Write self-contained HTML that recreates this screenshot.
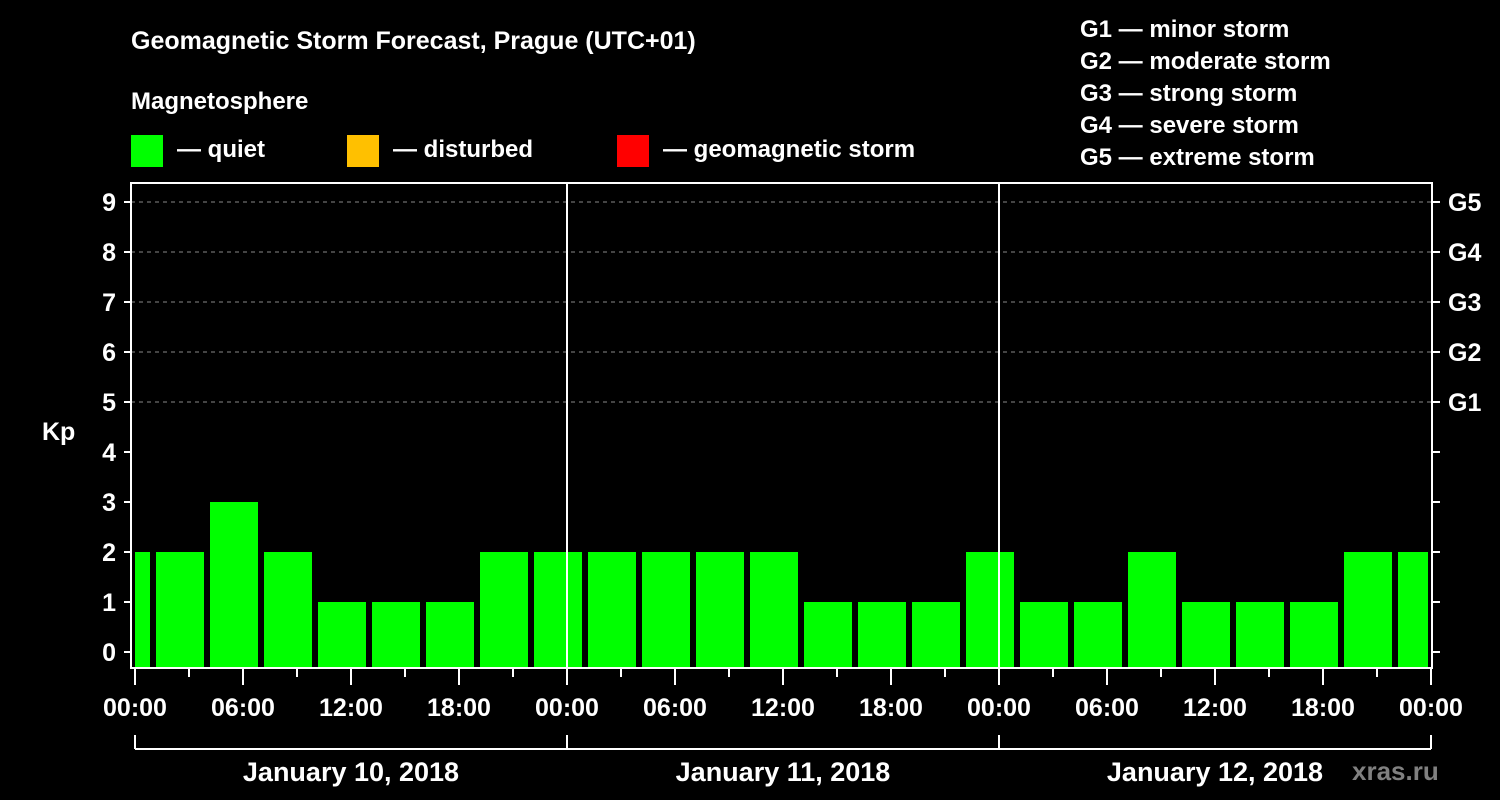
<!DOCTYPE html>
<html><head><meta charset="utf-8"><style>
html,body{margin:0;padding:0;background:#000;}
svg{display:block;font-family:"Liberation Sans",Arial,sans-serif;font-weight:bold;}
</style></head><body>
<svg id="chart" width="1500" height="800" viewBox="0 0 1500 800">
<rect x="0" y="0" width="1500" height="800" fill="#000"/>
<text x="131" y="49" fill="#fff" font-size="25">Geomagnetic Storm Forecast, Prague (UTC+01)</text>
<text x="131" y="109" fill="#fff" font-size="24">Magnetosphere</text>
<g><rect x="131" y="135" width="32" height="32" fill="#00ff00"/><text x="177" y="157" fill="#fff" font-size="24">— quiet</text></g>
<g><rect x="347" y="135" width="32" height="32" fill="#ffc000"/><text x="393" y="157" fill="#fff" font-size="24">— disturbed</text></g>
<g><rect x="617" y="135" width="32" height="32" fill="#ff0000"/><text x="663" y="157" fill="#fff" font-size="24">— geomagnetic storm</text></g>
<g fill="#fff" font-size="24">
<text x="1080" y="37">G1 — minor storm</text>
<text x="1080" y="69">G2 — moderate storm</text>
<text x="1080" y="101">G3 — strong storm</text>
<text x="1080" y="133">G4 — severe storm</text>
<text x="1080" y="165">G5 — extreme storm</text>
</g>
<text x="42" y="440" fill="#fff" font-size="25">Kp</text>
<defs><clipPath id="pc"><rect x="135" y="183" width="1293" height="485"/></clipPath></defs>
<g id="grid"></g>
<g id="bars" clip-path="url(#pc)"></g>
<g id="axes"></g>
<text x="1352" y="780" fill="#808080" font-size="26">xras.ru</text>
</svg>
<script>
const kpValues=[2,2,3,2,1,1,1,2,2,2,2,2,2,1,1,1,2,1,1,2,1,1,1,2,2];
const yTicks=[0,1,2,3,4,5,6,7,8,9];
const gLabels=["G1","G2","G3","G4","G5"];
const gLevels=[5,6,7,8,9];
const dayLabels=["January 10, 2018","January 11, 2018","January 12, 2018"];
const hourLabels=["00:00","06:00","12:00","18:00"];
const firstBlockStartHour=-2;
const blockHours=3;

const NS="http://www.w3.org/2000/svg";
const x0=135, pxPerHour=18, y0=652, pxPerKp=50, plotL=131, plotR=1432, plotT=183, plotB=668;
const xs=h=>x0+h*pxPerHour;
const ys=v=>y0-v*pxPerKp;
function mk(tag,attrs,parent){const e=document.createElementNS(NS,tag);for(const k in attrs)e.setAttribute(k,attrs[k]);parent.appendChild(e);return e;}
const grid=document.getElementById('grid'),bars=document.getElementById('bars'),axes=document.getElementById('axes');

yTicks.forEach(v=>{
  if(v>=5){const l=mk('line',{x1:plotL,x2:plotR,y1:ys(v),y2:ys(v),stroke:'#888','stroke-width':1,'stroke-dasharray':'4,4'},grid);
  
  }
  const t=mk('line',{x1:124,x2:plotL,y1:ys(v),y2:ys(v),stroke:'#fff','stroke-width':2},axes);
  
  
  const t2=mk('line',{x1:plotR,x2:plotR+8,y1:ys(v),y2:ys(v),stroke:'#fff','stroke-width':2},axes);
  
  
  const tx=mk('text',{x:116,y:ys(v)+9,fill:'#fff','font-size':25,'text-anchor':'end'},axes);
  tx.textContent=v;
  
  
});
gLabels.forEach((g,i)=>{
  const tx=mk('text',{x:1448,y:ys(gLevels[i])+9,fill:'#fff','font-size':25},axes);
  tx.textContent=g;
  
  
});

kpValues.forEach((v,i)=>{
  const h=firstBlockStartHour+i*blockHours;
  const r=mk('rect',{x:xs(h)+3,y:ys(v),width:blockHours*pxPerHour-6,height:plotB-ys(v),fill:'#00ff00'},bars);
  
  
});

// day separators
for(let d=1;d<dayLabels.length;d++){
  const l=mk('line',{x1:xs(d*24),x2:xs(d*24),y1:plotT,y2:plotB,stroke:'#fff','stroke-width':2},axes);
  
  
}
// frame
const fr=mk('rect',{x:plotL,y:plotT,width:plotR-plotL,height:plotB-plotT,fill:'none',stroke:'#fff','stroke-width':2},axes);



// x ticks
for(let h=0;h<=dayLabels.length*24;h+=3){
  const major=h%6===0;
  const l=mk('line',{x1:xs(h),x2:xs(h),y1:plotB,y2:plotB+(major?17:9),stroke:'#fff','stroke-width':2},axes);
  
  
  if(major){
    const lab=(h%24===0)?"00:00":hourLabels[(h%24)/6];
    const tx=mk('text',{x:xs(h),y:716,fill:'#fff','font-size':25,'text-anchor':'middle'},axes);
    tx.textContent=lab;
    
    
  }
}
// date brackets
const bp=mk('path',{d:'',fill:'none',stroke:'#fff','stroke-width':2},axes);
let d='M'+xs(0)+' 749 H'+xs(dayLabels.length*24);
for(let i=0;i<=dayLabels.length;i++)d+=' M'+xs(i*24)+' 735 V749';
bp.setAttribute('d',d);


dayLabels.forEach((lab,i)=>{
  const tx=mk('text',{x:xs(i*24+12),y:781,fill:'#fff','font-size':27,'text-anchor':'middle'},axes);
  tx.textContent=lab;
  
  
});
</script>
</body></html>
